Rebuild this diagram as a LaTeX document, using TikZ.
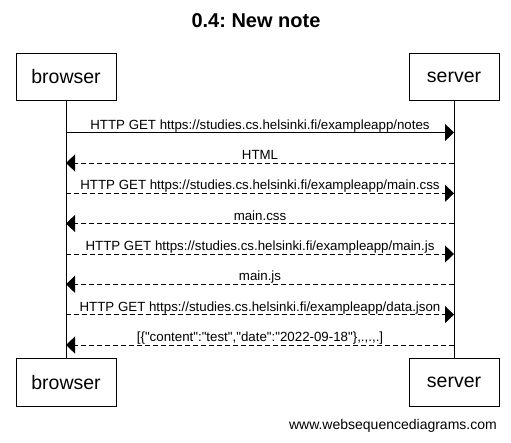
\documentclass[tikz,border=0pt]{standalone}
\usepackage{fontspec}
\setmainfont{Liberation Sans}
\newfontfamily\rawfont{Liberation Sans}
\usetikzlibrary{arrows.meta}
\frenchspacing
\tikzset{
  actor/.style={draw, line width=1pt, minimum height=47.5pt, inner sep=0pt, font=\fontsize{19.5}{22}\selectfont},
  lifeline/.style={line width=1pt},
  msg/.style={line width=1pt, -{Triangle[length=9pt,width=17pt]}},
  reply/.style={msg, dash pattern=on 5pt off 3pt},
  lbl/.style={anchor=base, yshift=3.5pt, inner sep=0pt, font=\rawfont\fontsize{13.3}{15}\selectfont},
}
\begin{document}
\begin{tikzpicture}[x=1pt,y=-1pt]
\useasboundingbox (0,0) rectangle (511,442);
\node[anchor=base, font=\bfseries\fontsize{20}{24}\selectfont] (title) at (256,27) {0.4: New note};
\node[actor, minimum width=100pt] (btop) at (66,77) {browser};
\node[actor, minimum width=90pt] (stop) at (454,77) {server};
\node[actor, minimum width=100pt] (bbot) at (66,382.5) {browser};
\node[actor, minimum width=90pt] (sbot) at (454,382.5) {server};
\draw[lifeline] (btop.south) -- (bbot.north);
\draw[lifeline] (stop.south) -- (sbot.north);
\foreach \i/\y in {1/132.5,2/163,3/193.3,4/223.5,5/254,6/284.3,7/314.6,8/345}{
  \coordinate (b\i) at (66,\y);
  \coordinate (s\i) at (454,\y);
}
\draw[msg] (b1) -- node[lbl] (l1) {HTTP GET https://studies.cs.helsinki.fi/exampleapp/notes} (s1);
\draw[reply] (s2) -- node[lbl] (l2) {HTML} (b2);
\draw[reply] (b3) -- node[lbl] (l3) {HTTP GET https://studies.cs.helsinki.fi/exampleapp/main.css} (s3);
\draw[reply] (s4) -- node[lbl] (l4) {main.css} (b4);
\draw[reply] (b5) -- node[lbl] (l5) {HTTP GET https://studies.cs.helsinki.fi/exampleapp/main.js} (s5);
\draw[reply] (s6) -- node[lbl] (l6) {main.js} (b6);
\draw[reply] (b7) -- node[lbl] (l7) {HTTP GET https://studies.cs.helsinki.fi/exampleapp/data.json} (s7);
\draw[reply] (s8) -- node[lbl] (l8) {[\{"content":"test","date":"2022-09-18"\},.,.,.]} (b8);
\node[anchor=base east, inner sep=0pt, font=\fontsize{14}{16}\selectfont] (footer) at (497,429) {www.websequencediagrams.com};
\end{tikzpicture}
\end{document}
